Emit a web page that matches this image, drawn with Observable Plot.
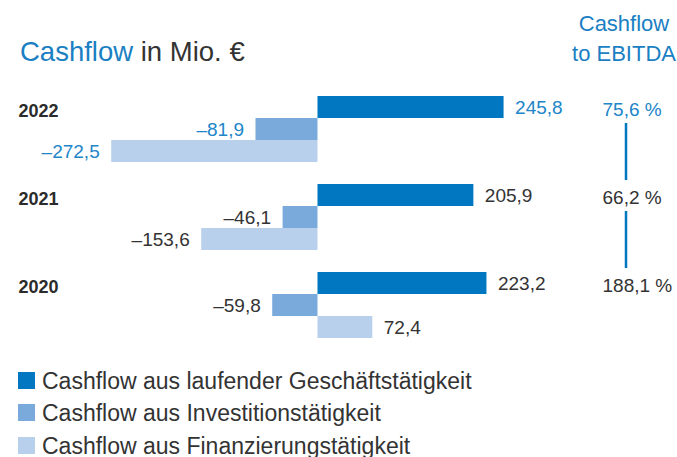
<!DOCTYPE html>
<html><head><meta charset="utf-8">
<script src="https://cdn.jsdelivr.net/npm/d3@7"></script>
<script src="https://cdn.jsdelivr.net/npm/@observablehq/plot@0.6"></script>
<style>
body{margin:0;background:#fff;font-family:"Liberation Sans",Arial,sans-serif;color:#333;}
#wrap{position:relative;width:677px;height:457px;overflow:hidden;background:#fff}
#title{position:absolute;left:20px;top:38px;font-size:27.5px;line-height:27px;white-space:nowrap;color:#333}
#title .hl{color:#1a7fc3}
#ratioHead{position:absolute;left:564px;width:120px;top:9px;text-align:center;font-size:22px;line-height:30.4px;color:#1a7fc3}
#chart{position:absolute;left:0;top:80px}
#legend{position:absolute;left:18px;top:365px}
.row{height:32.3px;line-height:32.3px;font-size:23px;white-space:nowrap;color:#333}
.sw{display:inline-block;width:17px;height:17px;margin-right:7px;vertical-align:baseline}
</style>
</head><body>
<div id="wrap">
  <div id="title"><span class="hl">Cashflow</span> in Mio. €</div>
  <div id="ratioHead">Cashflow<br>to EBITDA</div>
  <div id="chart"></div>
  <div id="legend"></div>
</div>
<script>
const years = ["2022", "2021", "2020"];
const types = ["Cashflow aus laufender Geschäftstätigkeit", "Cashflow aus Investitionstätigkeit", "Cashflow aus Finanzierungstätigkeit"];
const operating = [245.8, 205.9, 223.2];
const investing = [-81.9, -46.1, -59.8];
const financing = [-272.5, -153.6, 72.4];
const ratioToEbitda = [75.6, 66.2, 188.1];
const colors = ["#0077c0", "#7aaadb", "#b8d0eb"];
const highlightYear = "2022";

const blueText = "#2185c9", grayText = "#333";
const fmt = v => (v < 0 ? "–" : "") + Math.abs(v).toFixed(1).replace(".", ",");

const series = [operating, investing, financing];
const rows = [];
const yDomain = [];
years.forEach((yr, i) => {
  series.forEach((s, t) => {
    const key = yr + "|" + t;
    yDomain.push(key);
    rows.push({year: yr, type: types[t], key, value: s[i]});
  });
  if (i < years.length - 1) yDomain.push(yr + "|gap");
});
const yearRows = years.map((yr, i) => ({year: yr, key: yr + "|0", ratio: ratioToEbitda[i]}));

function connectors(index, scales, values, dimensions) {
  const y = scales.y;
  const bw = y.bandwidth ? y.bandwidth() : 0;
  const x = dimensions.width - dimensions.marginRight - 51;
  const g = d3.create("svg:g");
  for (let i = 0; i < yearRows.length - 1; i++) {
    const a = y(yearRows[i].key) + bw / 2, b = y(yearRows[i + 1].key) + bw / 2;
    g.append("line").attr("x1", x).attr("x2", x).attr("y1", a + 16).attr("y2", b - 15)
      .attr("stroke", "#0077c0").attr("stroke-width", 2.5);
  }
  return g.node();
}

const isHi = d => d.year === highlightYear;
const plot = Plot.plot({
  width: 677,
  height: 260,
  marginTop: 14, marginBottom: 0, marginLeft: 0, marginRight: 0,
  style: {fontFamily: "'Liberation Sans', Arial, sans-serif", fontSize: "19px", background: "transparent"},
  x: {domain: [-419.4, 474.9], axis: null},
  y: {domain: yDomain, padding: 0, axis: null},
  color: {domain: types, range: colors},
  marks: [
    Plot.barX(rows, {x1: 0, x2: "value", y: "key", fill: "type"}),
    Plot.text(rows.filter(d => d.value >= 0 && isHi(d)), {x: "value", y: "key", text: d => fmt(d.value), textAnchor: "start", dx: 11, fill: blueText}),
    Plot.text(rows.filter(d => d.value >= 0 && !isHi(d)), {x: "value", y: "key", text: d => fmt(d.value), textAnchor: "start", dx: 11, fill: grayText}),
    Plot.text(rows.filter(d => d.value < 0 && isHi(d)), {x: "value", y: "key", text: d => fmt(d.value), textAnchor: "end", dx: -12, fill: blueText}),
    Plot.text(rows.filter(d => d.value < 0 && !isHi(d)), {x: "value", y: "key", text: d => fmt(d.value), textAnchor: "end", dx: -12, fill: grayText}),
    Plot.text(yearRows, {y: "key", text: "year", frameAnchor: "left", textAnchor: "start", dx: 18, dy: 4, fontSize: 18, fontWeight: "bold", fill: "#2b2b2b"}),
    Plot.text(yearRows.filter(isHi), {y: "key", text: d => d.ratio.toFixed(1).replace(".", ",") + " %", frameAnchor: "right", textAnchor: "start", dx: -75, dy: 2.5, fill: blueText}),
    Plot.text(yearRows.filter(d => !isHi(d)), {y: "key", text: d => d.ratio.toFixed(1).replace(".", ",") + " %", frameAnchor: "right", textAnchor: "start", dx: -75, dy: 2.5, fill: grayText}),
    connectors
  ]
});
document.getElementById("chart").appendChild(plot);

const legend = d3.select("#legend");
types.forEach((t, i) => {
  const r = legend.append("div").attr("class", "row");
  r.append("span").attr("class", "sw").style("background", colors[i]);
  r.append("span").text(t);
});
</script>
</body></html>
